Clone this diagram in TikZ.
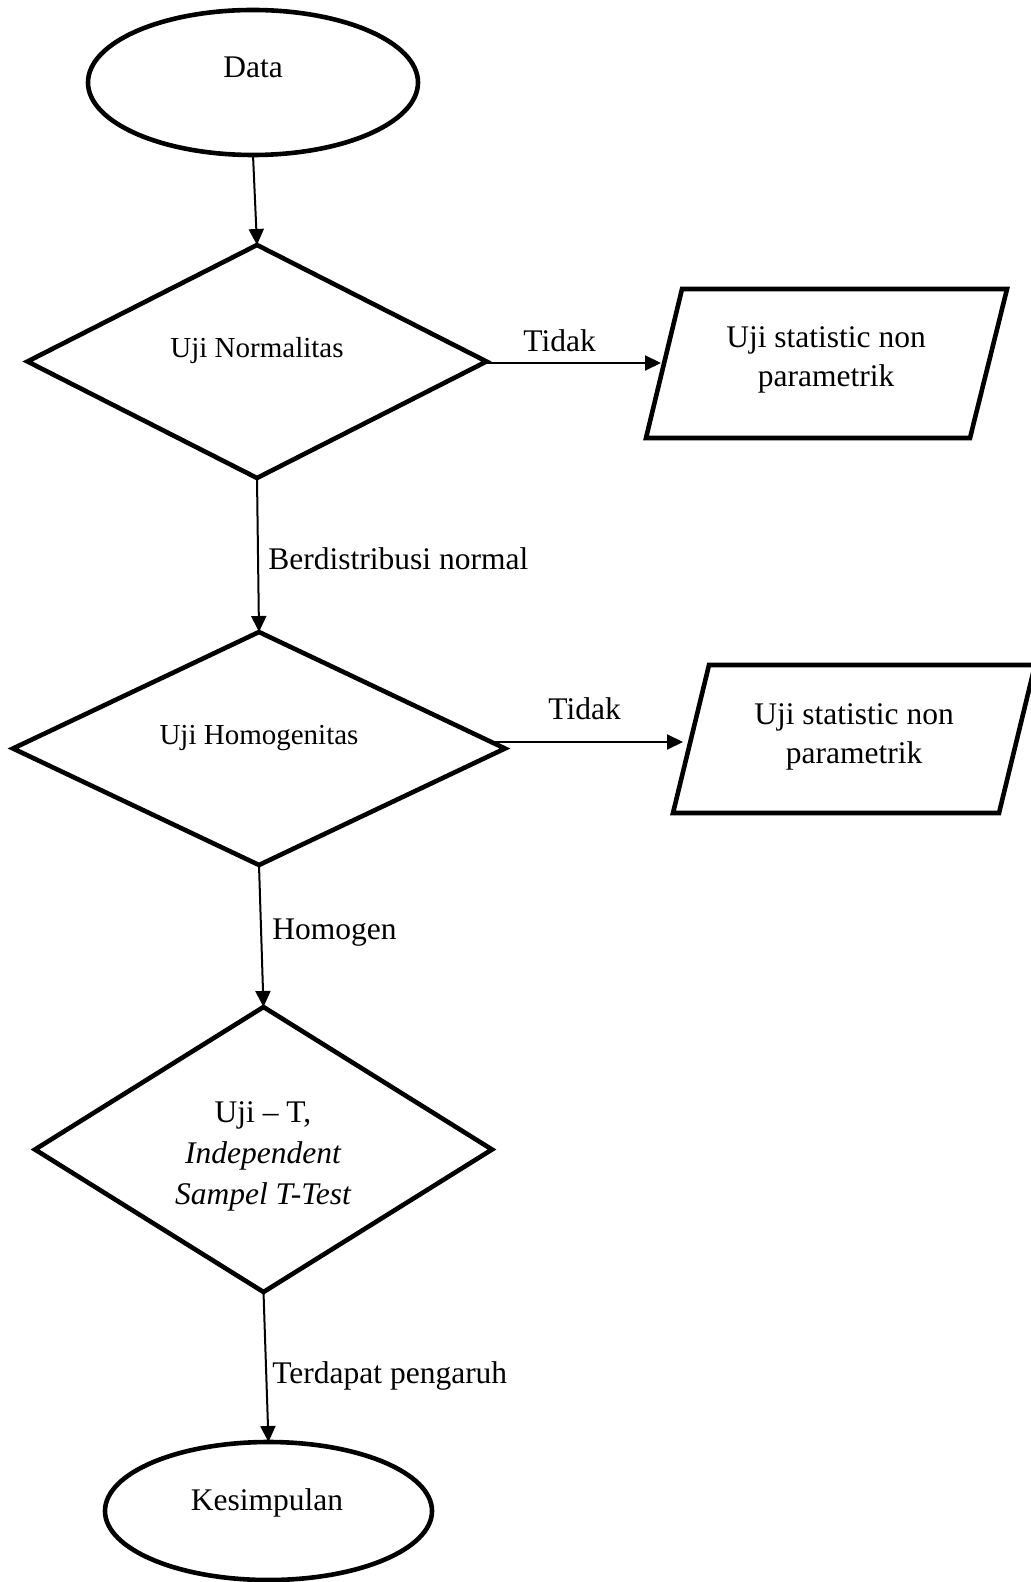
\documentclass[tikz,border=0pt]{standalone}
\usepackage{fontspec}
\setmainfont{Liberation Serif}
\usetikzlibrary{shapes.geometric,arrows.meta}
\tikzset{
  shapeline/.style={draw,line width=2.3pt,inner sep=0pt,outer sep=0pt},
  oval/.style={shapeline,ellipse},
  decision/.style={shapeline,diamond},
  arr/.style={line width=1pt,-{Triangle[length=8pt,width=7.5pt]}},
  lbl/.style={anchor=base west,inner sep=0pt,font=\fontsize{15.75}{20}\selectfont},
  txt/.style={anchor=base,inner sep=0pt,font=\fontsize{15.75}{20}\selectfont},
  stxt/.style={anchor=base,inner sep=0pt,font=\fontsize{14.5}{18}\selectfont}
}
\begin{document}
\begin{tikzpicture}[x=0.5pt,y=-0.5pt]
\useasboundingbox (0,0) rectangle (1030,1582);
\fill[white] (0,0) rectangle (1030,1582);

% start
\node[oval,minimum width=165pt,minimum height=72.5pt] (data) at (253,82.5) {};
\node[txt] (datat) at (253,78) {Data};

% decision 1
\node[decision,minimum width=229.5pt,minimum height=116.5pt] (d1) at (257,361.5) {};
\node[stxt] (d1t) at (257,358) {Uji Normalitas};

% parallelogram 1
\draw[line width=2.3pt,line join=miter] (682,289) -- (1007,289) -- (970,438) -- (646,438) -- cycle;
\coordinate (p1w) at (661,363);
\node[txt] (p1a) at (826,348) {Uji statistic non};
\node[txt] (p1b) at (826,387) {parametrik};

% decision 2
\node[decision,minimum width=246pt,minimum height=116.5pt] (d2) at (259,748.5) {};
\node[stxt] (d2t) at (259,744) {Uji Homogenitas};

% parallelogram 2
\draw[line width=2.3pt,line join=miter] (709,665) -- (1035,665) -- (999,813) -- (673,813) -- cycle;
\coordinate (p2w) at (683,742);
\node[txt] (p2a) at (854,724) {Uji statistic non};
\node[txt] (p2b) at (854,763) {parametrik};

% decision 3
\node[decision,minimum width=228.5pt,minimum height=142.5pt] (d3) at (263.5,1149.5) {};
\node[txt] (d3a) at (263,1122) {Uji -- T,};
\node[txt] (d3b) at (263,1163) {\itshape Independent};
\node[txt] (d3c) at (263,1204) {\itshape Sampel T-Test};

% end
\node[oval,minimum width=163.5pt,minimum height=69pt] (k) at (268.5,1511) {};
\node[txt] (kt) at (267,1510) {Kesimpulan};

% connectors
\draw[arr] (data.south) -- (d1.north);
\draw[arr] (d1.east |- p1w) -- (p1w);
\draw[arr] (d1.south) -- (d2.north);
\draw[arr] ([xshift=-8pt]d2.east |- p2w) -- (p2w);
\draw[arr] (d2.south) -- (d3.north);
\draw[arr] (d3.south) -- (k.north);

% connector labels
\node[lbl] (l1) at (523,352) {Tidak};
\node[lbl] (l2) at (268,569) {Berdistribusi normal};
\node[lbl] (l3) at (548,719) {Tidak};
\node[lbl] (l4) at (272,939) {Homogen};
\node[lbl] (l5) at (272,1383) {Terdapat pengaruh};
\end{tikzpicture}
\end{document}
